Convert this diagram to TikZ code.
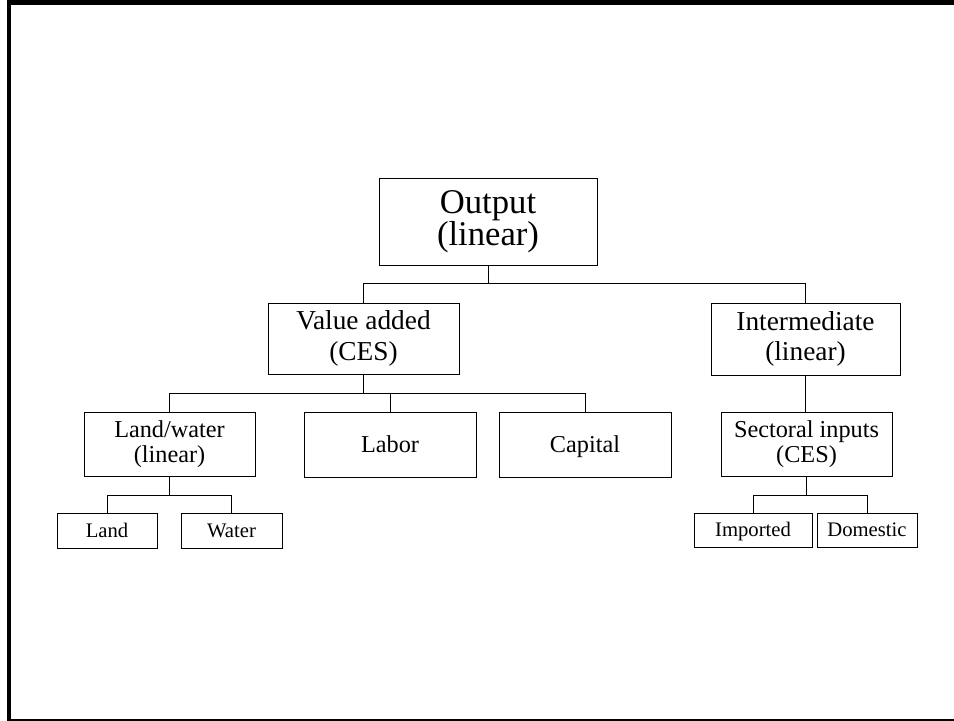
\documentclass[tikz,border=0pt]{standalone}
\usepackage{fontspec}
\setmainfont{Liberation Serif}
\usetikzlibrary{calc}
\setlength{\lineskiplimit}{-20pt}

\tikzset{
  box/.style={draw, line width=.65pt, inner sep=0pt},
  big/.style={box, align=center, font=\fontsize{26}{24}\selectfont},
  mid/.style={box, align=center, font=\fontsize{20.5}{23}\selectfont},
  sml/.style={box, align=center, font=\fontsize{18.2}{18.8}\selectfont},
  one/.style={box, font=\fontsize{18.2}{18.8}\selectfont, text height=14pt, text depth=2pt},
  tiny/.style={box, font=\fontsize{15.5}{16}\selectfont, text height=11.5pt, text depth=1.5pt},
  link/.style={line width=.65pt},
}

\begin{document}
\begin{tikzpicture}[x=.75pt,y=-.75pt]
\useasboundingbox (0,0) rectangle (954,721) ;

% frame
\draw [line width=3.4pt] (9,721) -- (9,2.5) -- (954,2.5) ;
\draw [line width=1.1pt] (7,719.8) -- (954,719.8) ;

% top
\node [big, minimum width=218*.75pt, minimum height=87*.75pt] (out) at (488,221.5) {Output\\(linear)} ;

% second row
\node [mid, minimum width=191*.75pt, minimum height=71*.75pt] (va) at (363.5,338.5) {Value added\\(CES)} ;
\node [mid, minimum width=189*.75pt, minimum height=72*.75pt] (inter) at (805.5,339) {Intermediate\\(linear)} ;

% third row
\node [sml, minimum width=171*.75pt, minimum height=64*.75pt] (lw) at (169.5,444) {Land/water\\(linear)} ;
\node [one, minimum width=172*.75pt, minimum height=65*.75pt] (labor) at (390,444.5) {Labor} ;
\node [one, minimum width=172*.75pt, minimum height=65*.75pt] (capital) at (585,444.5) {Capital} ;
\node [sml, minimum width=171*.75pt, minimum height=64*.75pt] (sect) at (806.5,444) {Sectoral inputs\\(CES)} ;

% bottom row
\node [tiny, minimum width=100*.75pt, minimum height=35*.75pt] (land) at (107,530.5) {Land} ;
\node [tiny, minimum width=101*.75pt, minimum height=35*.75pt] (water) at (231.5,530.5) {Water} ;
\node [tiny, minimum width=118*.75pt, minimum height=34*.75pt] (imp) at (753,530) {Imported} ;
\node [tiny, minimum width=100*.75pt, minimum height=34*.75pt] (dom) at (867,530) {Domestic} ;

% connectors
\draw [link] (out.south) -- ++(0,18) -| (va.north) ;
\draw [link] (out.south) -- ++(0,18) -| (inter.north) ;

\draw [link] (va.south) -- ++(0,19) -| (lw.north) ;
\draw [link] (va.south) -- ++(0,19) -| (labor.north) ;
\draw [link] (va.south) -- ++(0,19) -| (capital.north) ;

\draw [link] (inter.south) -- (inter.south |- sect.north) ;

\draw [link] (lw.south) -- ++(0,19) -| (land.north) ;
\draw [link] (lw.south) -- ++(0,19) -| (water.north) ;

\draw [link] (sect.south) -- ++(0,19) -| (imp.north) ;
\draw [link] (sect.south) -- ++(0,19) -| (dom.north) ;
\end{tikzpicture}
\end{document}
